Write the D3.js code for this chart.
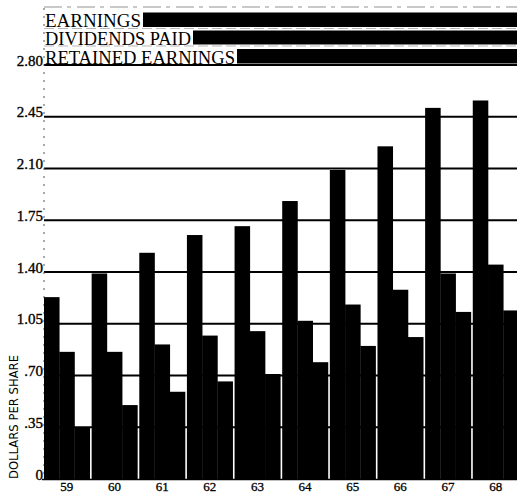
<!DOCTYPE html>
<html>
<head>
<meta charset="utf-8">
<script src="https://cdn.jsdelivr.net/npm/d3@7"></script>
<style>
  html, body { margin: 0; padding: 0; background: #fff; }
  svg { display: block; }
</style>
</head>
<body>
<div id="chart"></div>
<script>
// ---- data ----
const years = ["59", "60", "61", "62", "63", "64", "65", "66", "67", "68"];
const earnings = [1.23, 1.39, 1.53, 1.65, 1.71, 1.88, 2.09, 2.25, 2.51, 2.56];
const dividends = [0.86, 0.86, 0.91, 0.97, 1.00, 1.07, 1.18, 1.28, 1.39, 1.45];
const retained = [0.35, 0.50, 0.59, 0.66, 0.71, 0.79, 0.90, 0.96, 1.13, 1.14];
const seriesNames = ["EARNINGS", "DIVIDENDS PAID", "RETAINED EARNINGS"];
const tickValues = [0, 0.35, 0.70, 1.05, 1.40, 1.75, 2.10, 2.45, 2.80];
const tickLabels = ["0", ".35", ".70", "1.05", "1.40", "1.75", "2.10", "2.45", "2.80"];
const axisTitle = "DOLLARS PER SHARE";

// ---- layout ----
const W = 517, H = 493;
const svg = d3.select("#chart").append("svg").attr("width", W).attr("height", H);

const x = d3.scaleBand().domain(years).range([44, 518.5]).paddingInner(0.04).paddingOuter(0);
const xs = d3.scaleBand().domain(seriesNames).range([0, x.bandwidth()]).padding(0);
const y = d3.scaleLinear().domain([0, 2.8]).range([479, 65]);

const serif = "'Liberation Serif', 'Times New Roman', serif";

// gridlines
svg.append("g").selectAll("line").data(tickValues.filter(v => v > 0)).join("line")
  .attr("x1", 44).attr("x2", W)
  .attr("y1", d => y(d)).attr("y2", d => y(d))
  .attr("stroke", "#000").attr("stroke-width", 1.8);

// vertical dotted axis
svg.append("line").attr("x1", 44).attr("x2", 44).attr("y1", 8).attr("y2", y(0))
  .attr("stroke", "#555").attr("stroke-width", 1).attr("stroke-dasharray", "2,6");

// bars
const rows = years.map((yr, i) => ({ yr, vals: [earnings[i], dividends[i], retained[i]] }));
const g = svg.append("g");
g.selectAll("g").data(rows).join("g")
  .attr("transform", d => `translate(${x(d.yr)},0)`)
  .selectAll("rect").data(d => d.vals.map((v, k) => ({ v, k }))).join("rect")
  .attr("x", d => xs(seriesNames[d.k]))
  .attr("width", xs.bandwidth() + 0.3)
  .attr("y", d => y(d.v))
  .attr("height", d => y(0) - y(d.v))
  .attr("fill", "#000");

// baseline
svg.append("line").attr("x1", 42).attr("x2", W).attr("y1", y(0) + 0.5).attr("y2", y(0) + 0.5)
  .attr("stroke", "#000").attr("stroke-width", 1.5);

// y axis tick labels (baseline on gridline)
const yAxis = d3.axisLeft(y).tickValues(tickValues).tickFormat((d, i) => tickLabels[i]).tickSize(0);
const ya = svg.append("g").attr("transform", "translate(44,0)").call(yAxis);
ya.select(".domain").remove();
ya.selectAll("text")
  .attr("font-family", serif).attr("font-size", 15).attr("fill", "#000")
  .attr("stroke", "#000").attr("stroke-width", 0.35)
  .attr("x", -1).attr("dy", 0).attr("text-anchor", "end");

// x axis labels
const xAxis = d3.axisBottom(x).tickSize(0);
const xa = svg.append("g").attr("transform", `translate(0,${y(0)})`).call(xAxis);
xa.select(".domain").remove();
xa.selectAll("text")
  .attr("font-family", serif).attr("font-size", 13).attr("fill", "#000")
  .attr("stroke", "#000").attr("stroke-width", 0.3)
  .attr("y", 12).attr("dy", 0);

// axis title
svg.append("text")
  .attr("transform", `translate(18,${417}) rotate(-90)`)
  .attr("text-anchor", "middle")
  .attr("font-family", "'DejaVu Sans Condensed', 'Liberation Sans', sans-serif")
  .attr("font-size", 12)
  .attr("textLength", 124).attr("lengthAdjust", "spacingAndGlyphs")
  .text(axisTitle);

// legend
const legendRows = [
  { name: seriesNames[0], top: 12.5, bottom: 27, textW: 96 },
  { name: seriesNames[1], top: 30.5, bottom: 44.5, textW: 146 },
  { name: seriesNames[2], top: 49, bottom: 63.5, textW: 190 }
];
svg.append("line").attr("x1", 44).attr("x2", W).attr("y1", 7).attr("y2", 7)
  .attr("stroke", "#777").attr("stroke-width", 0.8).attr("stroke-dasharray", "18,5,4,6");
const lg = svg.append("g").selectAll("g").data(legendRows).join("g");
lg.append("text")
  .attr("x", 45).attr("y", d => d.bottom)
  .attr("font-family", serif).attr("font-size", 19.5).attr("fill", "#000")
  .attr("textLength", d => d.textW).attr("lengthAdjust", "spacingAndGlyphs")
  .text(d => d.name);
lg.append("rect")
  .attr("x", d => 45 + d.textW + 2).attr("width", d => W - (45 + d.textW + 2))
  .attr("y", d => d.top).attr("height", d => d.bottom - d.top)
  .attr("fill", "#000");
lg.filter((d, i) => i < 2).append("line")
  .attr("x1", 44).attr("x2", W).attr("y1", d => d.bottom + 1.5).attr("y2", d => d.bottom + 1.5)
  .attr("stroke", "#999").attr("stroke-width", 0.7).attr("stroke-dasharray", "10,4");
</script>
</body>
</html>
